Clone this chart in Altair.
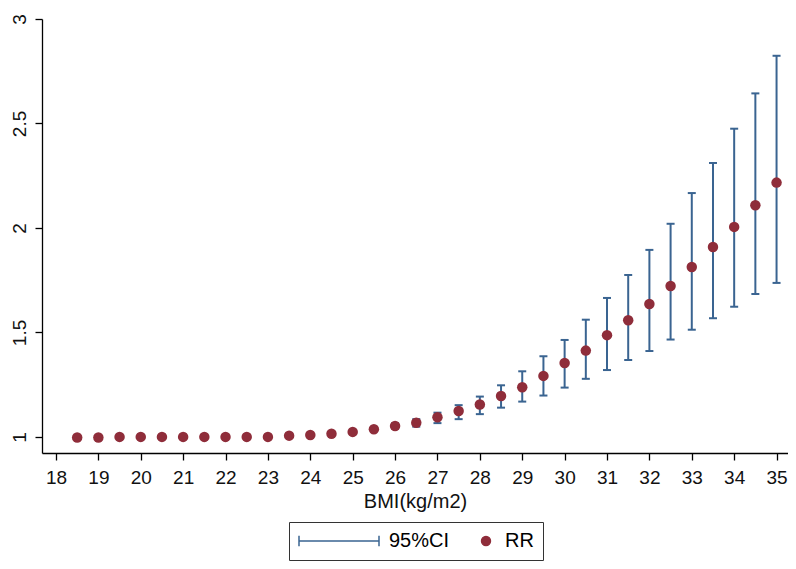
import altair as alt
import pandas as pd

# ---- data ----
bmi = [18.5, 19.0, 19.5, 20.0, 20.5, 21.0, 21.5, 22.0, 22.5, 23.0, 23.5, 24.0,
       24.5, 25.0, 25.5, 26.0, 26.5, 27.0, 27.5, 28.0, 28.5, 29.0, 29.5, 30.0,
       30.5, 31.0, 31.5, 32.0, 32.5, 33.0, 33.5, 34.0, 34.5, 35.0]
rr = [0.997, 0.997, 1.000, 1.000, 1.000, 1.000, 1.000, 1.000, 1.000, 1.000, 1.006, 1.009,
      1.015, 1.024, 1.037, 1.052, 1.068, 1.094, 1.124, 1.155, 1.196, 1.238, 1.292, 1.354,
      1.413, 1.487, 1.558, 1.636, 1.722, 1.813, 1.909, 2.005, 2.109, 2.217]
ci_low = [0.996, 0.996, 0.999, 0.999, 0.999, 0.999, 0.999, 0.999, 0.999, 0.999, 1.003, 1.005,
          1.009, 1.018, 1.030, 1.040, 1.049, 1.066, 1.085, 1.109, 1.140, 1.169, 1.198, 1.236,
          1.278, 1.320, 1.368, 1.411, 1.466, 1.513, 1.568, 1.623, 1.684, 1.737]
ci_high = [0.998, 0.998, 1.001, 1.001, 1.001, 1.001, 1.001, 1.001, 1.001, 1.001, 1.009, 1.012,
           1.018, 1.030, 1.045, 1.065, 1.085, 1.116, 1.152, 1.193, 1.247, 1.314, 1.386, 1.464,
           1.561, 1.665, 1.775, 1.895, 2.020, 2.167, 2.311, 2.475, 2.644, 2.824]
x_ticks = [18, 19, 20, 21, 22, 23, 24, 25, 26, 27, 28, 29, 30, 31, 32, 33, 34, 35]
y_ticks = [1, 1.5, 2, 2.5, 3]
series_names = ["95%CI", "RR"]
series_colors = ["#3a6491", "#8f2d3a"]

df = pd.DataFrame({"bmi": bmi, "rr": rr, "lo": ci_low, "hi": ci_high})

FONT = "Liberation Sans"
LINE_PATH = "M-1,0H1M-1,-0.13V0.13M1,-0.13V0.13"

x_scale = alt.Scale(domain=[17.67, 35.27], nice=False, zero=False)
y_scale = alt.Scale(domain=[0.923, 3.0], nice=False, zero=False)

x_axis = alt.Axis(values=x_ticks, format="d", title="BMI(kg/m2)",
                  labelFontSize=19, labelPadding=8, titleFontSize=20,
                  titlePadding=4, titleFontWeight="normal", labelFlush=False)
y_axis = alt.Axis(values=y_ticks, format="~g", title=None, labelAngle=-90,
                  labelAlign="center", labelBaseline="alphabetic",
                  labelFontSize=19, labelPadding=10)


def X():
    return alt.X("bmi:Q", scale=x_scale, axis=x_axis)


def Y(field):
    return alt.Y(field, type="quantitative", scale=y_scale, axis=y_axis)


legend = alt.Legend(
    title=None, orient="none", legendX=247, legendY=503, direction="horizontal",
    symbolStrokeWidth=1.5, symbolOpacity=1,
    labelFont=FONT, labelFontSize=20, labelColor="#000", labelOffset=9,
    clipHeight=20, columnPadding=26, padding=9,
    strokeColor="#333", fillColor="white",
)

series_field = "series:N"
base = alt.Chart(df)

rules = base.mark_rule(strokeWidth=2, color=series_colors[0]).encode(
    x=X(), y=Y("lo"), y2="hi:Q")
cap_lo = base.mark_tick(orient="horizontal", size=8, thickness=2, opacity=1,
                        color=series_colors[0]).encode(x=X(), y=Y("lo"))
cap_hi = base.mark_tick(orient="horizontal", size=8, thickness=2, opacity=1,
                        color=series_colors[0]).encode(x=X(), y=Y("hi"))
points = base.mark_circle(size=110, opacity=1, color=series_colors[1]).encode(
    x=X(), y=Y("rr"))

# legend-only layer (no rows drawn): maps the two series to their key symbols
key = base.transform_filter("false").transform_calculate(series="'RR'").mark_point(
    filled=True, opacity=1).encode(
    fill=alt.Fill(series_field, scale=alt.Scale(domain=series_names, range=series_colors),
                  legend=legend),
    stroke=alt.Stroke(series_field, scale=alt.Scale(domain=series_names, range=series_colors),
                      legend=legend),
    shape=alt.Shape(series_field, scale=alt.Scale(domain=series_names,
                                                  range=[LINE_PATH, "circle"]),
                    legend=legend),
    size=alt.Size(series_field, scale=alt.Scale(type="point", domain=series_names,
                                                range=[6400, 80], padding=0),
                  legend=legend),
)

chart = alt.layer(rules, cap_lo, cap_hi, points, key).properties(
    width=746, height=434,
    autosize=alt.AutoSizeParams(type="none"),
    padding={"left": 34, "top": 11, "right": 0, "bottom": 108},
).configure_axis(
    domainColor="#000", domainWidth=1.3, tickColor="#000", tickWidth=1.3, tickSize=7,
    labelFont=FONT, labelColor="#111", titleFont=FONT, titleColor="#111", grid=False,
).configure_view(stroke=None)

chart.save("out.html", embed_options={"renderer": "svg", "actions": False})
